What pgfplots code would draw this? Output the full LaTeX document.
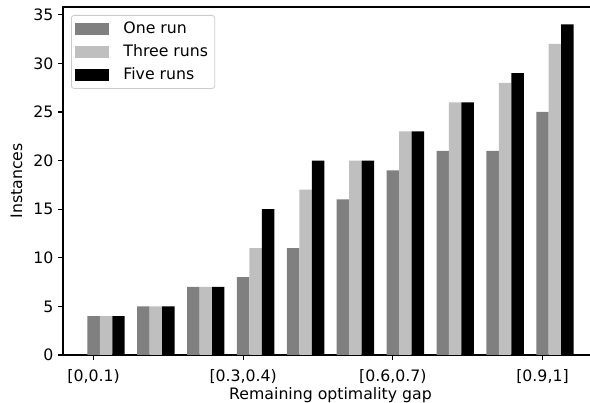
\documentclass[border=0pt]{standalone}
\usepackage{fontspec}
\setmainfont{DejaVu Sans}
\usepackage{pgfplots}
\pgfplotsset{compat=1.18}
\definecolor{onerun}{RGB}{128,128,128}
\definecolor{threeruns}{RGB}{191,191,191}
\definecolor{legframe}{RGB}{204,204,204}
\newcommand{\fs}{\fontsize{11.8}{14}\selectfont}
\begin{document}
\begin{tikzpicture}
\begin{axis}[
  scale only axis,
  width=401.25pt, height=261pt,
  xmin=-0.6125, xmax=10.1125, ymin=0, ymax=35.8,
  ybar, bar width=0.25,
  xtick={0,3,6,9},
  xticklabels={{[0,0.1)},{[0.3,0.4)},{[0.6,0.7)},{[0.9,1]}},
  ytick={0,5,10,15,20,25,30,35},
  xtick pos=bottom, ytick pos=left,
  tick align=outside,
  major tick length=3.75pt,
  tick style={black, line width=0.8pt},
  axis line style={line width=0.9pt, black},
  /pgf/number format/assume math mode=true,
  tick label style={font=\fs},
  xticklabel style={yshift=-3.5pt},
  xlabel={Remaining optimality gap},
  ylabel={Instances},
  xlabel style={font=\fs, at={(axis description cs:0.5,0)}, anchor=base, yshift=-33.75pt},
  ylabel style={font=\fs, at={(axis description cs:-0.0766,0.5)}, anchor=base},
  legend cell align=left,
  legend style={font=\fs, at={(rel axis cs:0.015,0.977)}, anchor=north west,
    draw=legframe, rounded corners=2pt, line width=0.6pt,
    inner xsep=3pt, inner ysep=3pt,
    row sep=2.8pt,
    /tikz/every odd column/.append style={column sep=9pt}},
  legend image code/.code={\fill[#1, sharp corners] (0pt,-4.5pt) rectangle (25pt,4.5pt);},
  every axis plot/.append style={draw=none},
]
\addplot[fill=onerun, bar shift=0] coordinates {(0,4) (1,5) (2,7) (3,8) (4,11) (5,16) (6,19) (7,21) (8,21) (9,25)};
\addplot[fill=threeruns, bar shift=0.25] coordinates {(0,4) (1,5) (2,7) (3,11) (4,17) (5,20) (6,23) (7,26) (8,28) (9,32)};
\addplot[fill=black, bar shift=0.5] coordinates {(0,4) (1,5) (2,7) (3,15) (4,20) (5,20) (6,23) (7,26) (8,29) (9,34)};
\legend{One run, Three runs, Five runs}
\coordinate (axll) at (rel axis cs:0,0);
\end{axis}
\pgfresetboundingbox
\path[use as bounding box] (axll) ++(-47.25pt,-36pt) rectangle ++(442.5pt,302.25pt);
\end{tikzpicture}
\end{document}
